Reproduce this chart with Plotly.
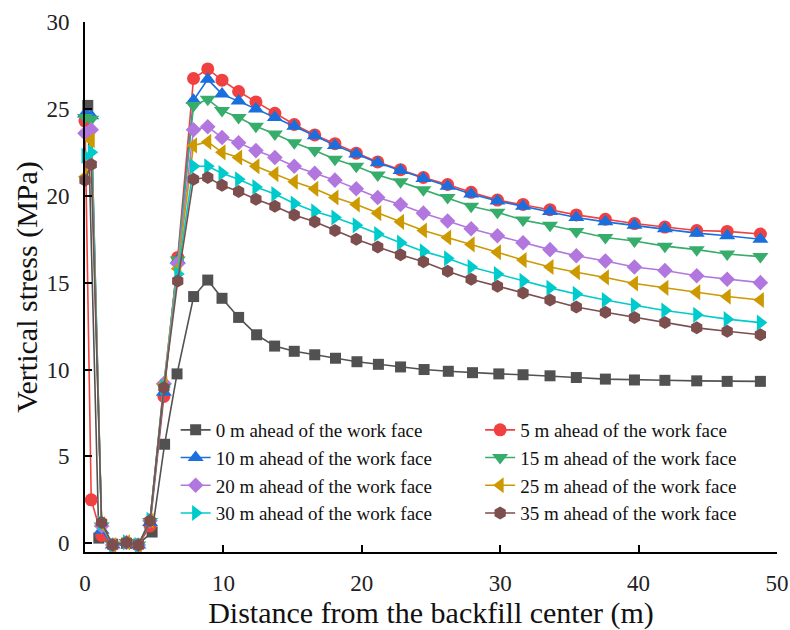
import plotly.graph_objects as go

# Distance from the backfill center (m)
x_shared = [0, 0.45, 1.2, 2.0, 3.0, 3.85, 4.7, 5.7, 6.7,
            7.84, 8.87, 9.9, 11.1, 12.35, 13.72, 15.12, 16.6, 18.06, 19.6,
            21.15, 22.8, 24.45, 26.2, 27.9, 29.8, 31.65, 33.6, 35.5, 37.6,
            39.7, 41.9, 44.2, 46.4, 48.8]
x_face = [0.2, 1.0, 2.0, 3.0, 3.85, 4.85, 5.75, 6.65,
          7.85, 8.87, 9.9, 11.1, 12.4, 13.7, 15.12, 16.6, 18.1, 19.65,
          21.2, 22.8, 24.5, 26.25, 28.0, 29.9, 31.65, 33.6, 35.5, 37.6,
          39.7, 41.9, 44.2, 46.4, 48.8]

# Vertical stress (MPa) for each distance ahead of the work face
stress_0 = [25.2, 0.3, -0.05, 0.0, -0.05, 0.65, 5.7, 9.75,
            14.2, 15.15, 14.1, 13.0, 12.0, 11.35, 11.05, 10.85, 10.65, 10.45,
            10.3, 10.15, 10.0, 9.9, 9.82, 9.75, 9.7, 9.64, 9.54, 9.45,
            9.4, 9.38, 9.35, 9.32, 9.32]
stress_5 = [24.3, 2.5, 0.45, -0.1, 0.05, -0.1, 1.0, 8.45, 16.45,
            26.75, 27.3, 26.65, 26.0, 25.4, 24.75, 24.1, 23.5, 23.0, 22.45,
            21.95, 21.5, 21.05, 20.65, 20.2, 19.75, 19.5, 19.2, 18.9, 18.65,
            18.4, 18.2, 18.0, 17.95, 17.8]
stress_10 = [24.7, 24.6, 0.75, -0.1, 0.05, -0.1, 1.2, 8.7, 16.3,
             25.5, 26.7, 25.85, 25.45, 25.0, 24.5, 24.0, 23.45, 22.9, 22.4,
             21.9, 21.45, 21.0, 20.55, 20.1, 19.7, 19.4, 19.1, 18.75, 18.5,
             18.3, 18.1, 17.85, 17.7, 17.5]
stress_15 = [24.5, 24.4, 1.0, -0.1, 0.05, -0.1, 1.25, 9.0, 16.3,
             25.2, 25.55, 24.9, 24.5, 24.0, 23.55, 23.05, 22.6, 22.1, 21.7,
             21.2, 20.8, 20.35, 19.9, 19.4, 19.05, 18.6, 18.3, 17.95, 17.6,
             17.4, 17.1, 16.9, 16.65, 16.5]
stress_20 = [23.6, 23.8, 1.0, -0.1, 0.05, -0.1, 1.3, 9.2, 16.1,
             23.8, 23.97, 23.35, 23.05, 22.6, 22.2, 21.7, 21.3, 20.9, 20.4,
             19.9, 19.5, 19.0, 18.55, 18.1, 17.7, 17.3, 16.9, 16.55, 16.25,
             15.9, 15.7, 15.4, 15.2, 15.0]
stress_25 = [21.1, 23.2, 1.1, -0.1, 0.05, -0.1, 1.3, 9.15, 15.8,
             22.9, 23.1, 22.5, 22.2, 21.7, 21.25, 20.8, 20.4, 19.9, 19.5,
             19.0, 18.5, 18.0, 17.6, 17.2, 16.75, 16.3, 15.9, 15.6, 15.3,
             14.95, 14.7, 14.45, 14.2, 14.0]
stress_30 = [22.3, 22.5, 1.15, -0.1, 0.05, -0.1, 1.35, 9.0, 15.5,
             21.7, 21.7, 21.3, 20.95, 20.5, 20.1, 19.55, 19.1, 18.75, 18.3,
             17.8, 17.3, 16.8, 16.4, 15.9, 15.5, 15.1, 14.7, 14.35, 14.0,
             13.7, 13.4, 13.15, 12.9, 12.7]
stress_35 = [20.9, 21.8, 1.2, -0.1, 0.05, -0.1, 1.3, 8.95, 15.1,
             20.95, 21.05, 20.6, 20.25, 19.8, 19.4, 18.9, 18.5, 18.0, 17.5,
             17.05, 16.6, 16.2, 15.65, 15.2, 14.8, 14.4, 14.0, 13.6, 13.3,
             13.0, 12.7, 12.4, 12.2, 12.0]

series_names = [f"{d} m ahead of the work face" for d in (0, 5, 10, 15, 20, 25, 30, 35)]
series_x = [x_face] + [x_shared] * 7
series_y = [stress_0, stress_5, stress_10, stress_15,
            stress_20, stress_25, stress_30, stress_35]

colors = ["#515151", "#F14040", "#1A6FDF", "#37AD6B",
          "#B177DE", "#CC9900", "#00CBCC", "#7D4E4E"]
symbols = ["square", "circle", "triangle-up", "triangle-down",
           "diamond", "triangle-left", "triangle-right", "hexagon"]
sizes = [11, 13, 14, 14, 12, 14, 14, 13]

SERIF = "Liberation Serif, Times New Roman, serif"

fig = go.Figure()
for i, (name, xs, ys, c, s, sz) in enumerate(
        zip(series_names, series_x, series_y, colors, symbols, sizes)):
    # legend entries alternate between a left and a right column
    fig.add_trace(go.Scatter(
        x=xs, y=ys, name=name, mode="lines+markers",
        line=dict(color=c, width=1.6),
        marker=dict(symbol=s, size=sz, color=c, line=dict(width=0)),
        cliponaxis=False,
        legend="legend" if i % 2 == 0 else "legend2",
    ))

axis_common = dict(
    showline=True, linecolor="black", linewidth=2,
    ticks="inside", ticklen=7, tickwidth=2, tickcolor="black",
    showgrid=False, zeroline=False, mirror=False, automargin=False,
    tickfont=dict(family=SERIF, size=23, color="#222"),
)

fig.update_xaxes(range=[0, 50], dtick=10, tick0=0,
                 title=dict(text="Distance from the backfill center (m)",
                            font=dict(family=SERIF, size=30, color="#111"), standoff=8),
                 ticklabelstandoff=9, **axis_common)
fig.update_yaxes(range=[-0.5, 30], dtick=5, tick0=0,
                 title=dict(text="Vertical stress (MPa)",
                            font=dict(family=SERIF, size=30, color="#111"), standoff=0),
                 ticklabelstandoff=9, **axis_common)

legend_style = dict(
    orientation="v", xanchor="left", yanchor="top", y=0.266,
    font=dict(family=SERIF, size=19, color="#111"),
    bgcolor="rgba(0,0,0,0)", traceorder="normal",
)

fig.update_layout(
    width=790, height=630,
    margin=dict(l=85, r=13, t=22, b=78),
    plot_bgcolor="white", paper_bgcolor="white",
    legend=dict(x=0.131, **legend_style),
    legend2=dict(x=0.571, **legend_style),
    showlegend=True,
)

fig.write_html("out.html")
